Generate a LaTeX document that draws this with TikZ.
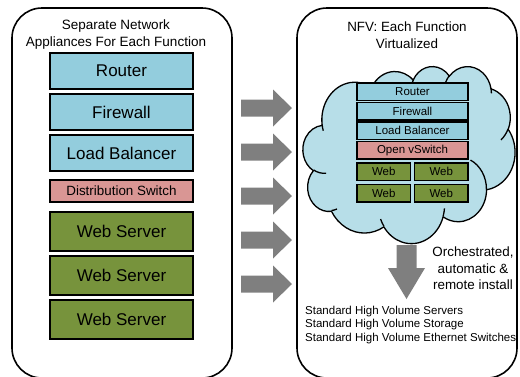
\documentclass[tikz,border=0pt]{standalone}
\usepackage{fontspec}
\setmainfont{Liberation Sans}
\usetikzlibrary{positioning}

\definecolor{routerblue}{HTML}{93CDDD}
\definecolor{switchpink}{HTML}{D99694}
\definecolor{webgreen}{HTML}{77933C}
\definecolor{cloudblue}{HTML}{B7DEE8}
\definecolor{arrowgray}{HTML}{7F7F7F}

% cloud laid out in a 432x432 box, squeezed to 212x177
\newcommand{\cloudsx}{0.49074}
\newcommand{\cloudsy}{0.40972}
% one lobe: x radius, y radius, start angle, sweep (angles seen from the centre)
\newcommand{\cloudlobe}[4]{arc[x radius={#1*\cloudsx}, y radius={#2*\cloudsy},
  start angle={atan2(#1*sin(#3),#2*cos(#3))},
  delta angle={mod(atan2(#1*sin(#3+#4),#2*cos(#3+#4))-atan2(#1*sin(#3),#2*cos(#3))+720,360)}]}

\begin{document}
\begin{tikzpicture}[x=1pt,y=-1pt,
panel/.style={line width=1.6pt, rounded corners=30pt},
appbox/.style={rectangle, draw=black, line width=1.6pt, outer sep=0pt, inner sep=0pt, minimum width=143pt, font=\fontsize{17}{20}\selectfont},
vnfbox/.style={rectangle, draw=black, line width=1.6pt, outer sep=0pt, inner sep=0pt, minimum width=111pt, minimum height=17.5pt, font=\fontsize{11.5}{13}\selectfont},
webbox/.style={vnfbox, fill=webgreen, minimum width=53.5pt},
cloudline/.style={draw=black, line width=1.3pt},
]
\useasboundingbox (0,0) rectangle (520,376);

%Panels
\draw[panel] (12,8) rectangle (232,378);
\draw[panel] (297,8) rectangle (517,378);
\node[align=center, inner sep=0pt, font=\fontsize{13.5}{17}\selectfont](lefttitle) at (116,35){Separate Network\\Appliances For Each Function};
\node[align=center, inner sep=0pt, font=\fontsize{13.4}{17}\selectfont](righttitle) at (407,35){NFV: Each Function\\Virtualized};

%Appliances
\node[appbox, fill=routerblue, minimum height=36pt](router) at (121.5,71){Router};
\node[appbox, fill=routerblue, minimum height=36pt](firewall)[below=5pt of router]{Firewall};
\node[appbox, fill=routerblue, minimum height=36pt](balancer)[below=5pt of firewall]{Load Balancer};
\node[appbox, fill=switchpink, minimum height=22pt, font=\fontsize{13.4}{16}\selectfont](distswitch)[below=9pt of balancer]{Distribution Switch};
\node[appbox, fill=webgreen, minimum height=39pt](webA)[below=10pt of distswitch]{Web Server};
\node[appbox, fill=webgreen, minimum height=39pt](webB)[below=5pt of webA]{Web Server};
\node[appbox, fill=webgreen, minimum height=39pt](webC)[below=5pt of webB]{Web Server};

%Cloud
\begin{scope}[shift={(303,66)}]
\filldraw[cloudline, fill=cloudblue] ({39.00*\cloudsx},{143.70*\cloudsy})
  \cloudlobe{67.53}{91.90}{-190.4875}{123.7805}
  \cloudlobe{53.33}{72.67}{-144.1024}{89.9452}
  \cloudlobe{43.65}{59.45}{-145.8079}{99.7230}
  \cloudlobe{48.57}{65.95}{-130.9861}{117.2417}
  \cloudlobe{53.33}{72.73}{-78.7089}{109.0269}
  \cloudlobe{67.75}{92.20}{-46.2673}{130.2690}
  \cloudlobe{57.85}{78.67}{0.6250}{114.0333}
  \cloudlobe{67.52}{92.15}{22.4516}{115.1726}
  \cloudlobe{77.20}{105.43}{66.2426}{75.7110}
  \cloudlobe{43.60}{59.18}{-274.9421}{146.7356}
  \cloudlobe{43.45}{59.45}{-246.8285}{152.5189}
  -- cycle;
% creases between the lobes
\draw[cloudline]
  ({46.93*\cloudsx},{261.77*\cloudsy}) \cloudlobe{43.45}{59.45}{86.7420}{26.4295}
  ({69.28*\cloudsx},{348.99*\cloudsy}) \cloudlobe{43.60}{59.18}{73.6105}{11.4475}
  ({164.78*\cloudsx},{390.90*\cloudsy}) \cloudlobe{67.52}{92.15}{137.6242}{14.0811}
  ({288.27*\cloudsx},{347.51*\cloudsy}) \cloudlobe{67.52}{92.15}{6.4533}{15.9984}
  ({341.29*\cloudsx},{229.54*\cloudsy}) \cloudlobe{57.85}{78.67}{-70.2924}{70.9174}
  ({417.98*\cloudsx},{153.54*\cloudsy}) \cloudlobe{53.33}{72.73}{30.3234}{27.7624}
  ({383.24*\cloudsx},{54.26*\cloudsy}) \cloudlobe{48.57}{65.95}{-13.7334}{14.8519}
  ({290.78*\cloudsx},{39.52*\cloudsy}) \cloudlobe{48.57}{65.95}{-149.1758}{18.1989}
  ({221.41*\cloudsx},{47.20*\cloudsy}) \cloudlobe{43.65}{59.45}{-163.4943}{17.6980}
  ({140.00*\cloudsx},{51.92*\cloudsy}) \cloudlobe{67.53}{91.90}{-66.7070}{12.3194}
  ({41.27*\cloudsx},{157.89*\cloudsy}) \cloudlobe{67.53}{91.90}{157.6544}{11.8539};
\end{scope}

%Virtual functions
\node[vnfbox, fill=routerblue](vrouter) at (412.5,91.75){Router};
\node[vnfbox, fill=routerblue](vfirewall)[below=2pt of vrouter]{Firewall};
\node[vnfbox, fill=routerblue](vbalancer)[below=2pt of vfirewall]{Load Balancer};
\node[vnfbox, fill=switchpink](vswitch)[below=2pt of vbalancer]{Open vSwitch};
\node[webbox](vwebA) at (383.75,171.75){Web};
\node[webbox](vwebB)[right=4pt of vwebA]{Web};
\node[webbox](vwebC)[below=4pt of vwebA]{Web};
\node[webbox](vwebD)[right=4pt of vwebC]{Web};

%Arrows
\foreach \ay in {108,152,196,240,284}
  \fill[arrowgray] (241,\ay-8.5) -- (273,\ay-8.5) -- (273,\ay-18.5) -- (292,\ay)
    -- (273,\ay+18.5) -- (273,\ay+8.5) -- (241,\ay+8.5) -- cycle;
\fill[arrowgray] (396.5,245) -- (416.5,245) -- (416.5,268) -- (425,268) -- (406.5,299)
  -- (388,268) -- (396.5,268) -- cycle;

%Labels
\node[align=center, anchor=north, inner sep=0pt, font=\fontsize{13.4}{16.5}\selectfont](orchestr) at (473,246.6){Orchestrated,\\automatic \&\\remote install};
\node[align=left, anchor=north west, inner sep=0pt, font=\fontsize{11.5}{13.5}\selectfont](hardware) at (305,305.5){Standard High Volume Servers\\Standard High Volume Storage\\Standard High Volume Ethernet Switches};
\end{tikzpicture}
\end{document}
